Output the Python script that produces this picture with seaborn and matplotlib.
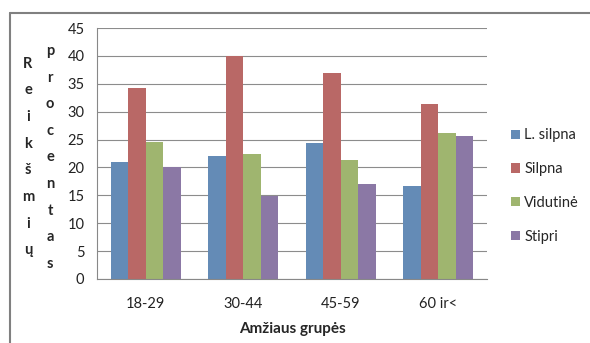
import numpy as np
import pandas as pd
import matplotlib
matplotlib.use("Agg")
import matplotlib.pyplot as plt
from matplotlib.lines import Line2D
import seaborn as sns

# data
groups = ["18-29", "30-44", "45-59", "60 ir<"]
levels = ["L. silpna", "Silpna", "Vidutinė", "Stipri"]
l_silpna = [21.0, 22.1, 24.4, 16.7]
silpna = [34.3, 40.0, 36.9, 31.3]
vidutine = [24.6, 22.4, 21.4, 26.1]
stipri = [20.0, 14.9, 17.0, 25.6]
colors = ["#568AC4", "#C75B58", "#A3C163", "#8A70AD"]

rows = []
for lvl, vals in zip(levels, [l_silpna, silpna, vidutine, stipri]):
    for g, v in zip(groups, vals):
        rows.append({"grupe": g, "lygis": lvl, "proc": v})
data = pd.DataFrame(rows)

sns.set_style("white")
plt.rcParams["font.family"] = ["Lato", "DejaVu Sans"]
plt.rcParams["font.size"] = 10.5

fig = plt.figure(figsize=(5.9, 3.43), dpi=100)
ax = fig.add_axes([97 / 590, 1 - 279 / 343, 390 / 590, 251 / 343])

sns.barplot(data=data, x="grupe", y="proc", hue="lygis", palette=colors,
            width=0.72, ax=ax, edgecolor="none", linewidth=0)

ax.set_ylim(0, 45)
ax.set_yticks(np.arange(0, 46, 5))
ax.set_xlim(-0.5, 3.5)
ax.yaxis.grid(True, color="#8C8C8C", linewidth=0.8)
ax.set_axisbelow(True)
for s in ["top", "right"]:
    ax.spines[s].set_visible(False)
for s in ["left", "bottom"]:
    ax.spines[s].set_color("#888888")
    ax.spines[s].set_linewidth(0.8)

# category ticks sit between groups
ax.set_xticks(np.arange(-0.5, 4, 1), minor=False)
ax.set_xticklabels([])
ax.set_xticks(np.arange(4), minor=True)
ax.set_xticklabels(groups, minor=True)
ax.tick_params(axis="x", which="major", length=5, width=0.8)
ax.tick_params(axis="x", which="minor", length=0, pad=13, labelsize=10.5)
ax.tick_params(axis="y", length=5, width=0.8, pad=4, labelsize=10.5)
ax.tick_params(which="both", labelcolor="#222222", color="#888888")

ax.set_xlabel("Amžiaus grupės", fontweight="bold", fontsize=11, labelpad=8)
ax.set_ylabel("")

fig.text(28 / 590, 1 - 157 / 343, "\n".join("Reikšmių"), ha="center",
         va="center", fontsize=10.5, fontweight="bold", linespacing=2.15)
fig.text(50 / 590, 1 - 157.5 / 343, "\n".join("procentas"), ha="center",
         va="center", fontsize=10.5, fontweight="bold", linespacing=2.15)

handles, labels = ax.get_legend_handles_labels()
ax.legend(handles, labels, loc="center left", bbox_to_anchor=(498 / 590, 1 - 186 / 343),
          bbox_transform=fig.transFigure, frameon=False, handlelength=0.6,
          handleheight=0.6, handletextpad=0.3, labelspacing=1.35, fontsize=10.5)

# outer frame lines (top and left only)
fig.add_artist(Line2D([10 / 590, 1], [1 - 13 / 343, 1 - 13 / 343], color="#808080",
                      linewidth=1.5, transform=fig.transFigure))
fig.add_artist(Line2D([10 / 590, 10 / 590], [0, 1 - 13 / 343], color="#808080",
                      linewidth=1.5, transform=fig.transFigure))

fig.savefig("out.png", dpi=100)
